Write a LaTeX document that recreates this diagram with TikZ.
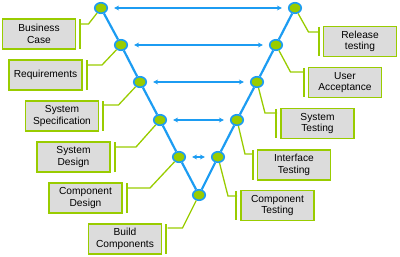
\documentclass[tikz,border=0pt]{standalone}
\usepackage{fontspec}
\setmainfont{Liberation Sans}
\usetikzlibrary{shapes.geometric,arrows.meta}
\definecolor{vblue}{HTML}{1C9CF2}
\definecolor{vgreen}{HTML}{99CC00}
\definecolor{vgray}{HTML}{DCDCDC}
\begin{document}
\begin{tikzpicture}[x=1pt,y=-1pt,
  stage/.style={ellipse, draw=vblue, line width=1.6pt, fill=vgreen,
    minimum width=12.5pt, minimum height=10.5pt, inner sep=0pt},
  phase/.style={draw=vgreen, line width=1.5pt, fill=vgray,
    minimum width=73pt, minimum height=30pt, inner sep=1pt, align=center,
    font=\fontsize{10.2}{11.5}\selectfont},
  bar/.style={draw=vgreen, line width=1.6pt},
  link/.style={draw=vgreen, line width=1.3pt},
  vee/.style={draw=vblue, line width=2.2pt},
  pair/.style={draw=vblue, line width=1.3pt, shorten <=6pt, shorten >=6pt,
    {Stealth[length=5pt,width=5pt]}-{Stealth[length=5pt,width=5pt]}}
]
\useasboundingbox (0,0) rectangle (400,257);

% stages of the V
\node[stage] (l1) at (101,8) {};
\node[stage] (l2) at (121,45) {};
\node[stage] (l3) at (140,82) {};
\node[stage] (l4) at (160,120) {};
\node[stage] (l5) at (179,157) {};
\node[stage] (b)  at (199,195) {};
\node[stage] (r5) at (218,157) {};
\node[stage] (r4) at (237,120) {};
\node[stage] (r3) at (257,82) {};
\node[stage] (r2) at (276,45) {};
\node[stage] (r1) at (295,8) {};

% the V itself
\draw[vee] (l1) -- (l2);
\draw[vee] (l2) -- (l3);
\draw[vee] (l3) -- (l4);
\draw[vee] (l4) -- (l5);
\draw[vee] (l5) -- (b);
\draw[vee] (b) -- (r5);
\draw[vee] (r5) -- (r4);
\draw[vee] (r4) -- (r3);
\draw[vee] (r3) -- (r2);
\draw[vee] (r2) -- (r1);

% verification links across the V
\draw[pair] (l1) -- (r1);
\draw[pair] (l2) -- (r2);
\draw[pair] (l3) -- (r3);
\draw[pair] (l4) -- (r4);
\draw[pair] (l5) -- (r5);

% left-hand phases
\node[phase] (bc) at (39,34)    {Business\\Case};
\node[phase] (rq) at (45.5,75)  {Requirements};
\node[phase] (ss) at (62,116)   {System\\Specification};
\node[phase] (sd) at (73.5,157) {System\\Design};
\node[phase] (cd) at (85.5,198) {Component\\Design};
\node[phase] (bu) at (125,239)  {Build\\Components};

% right-hand phases
\node[phase] (rt) at (360,41.5)  {Release\\testing};
\node[phase] (ua) at (345,82.5)  {User\\Acceptance};
\node[phase] (st) at (317.5,123.5) {System\\Testing};
\node[phase] (it) at (294,165)   {Interface\\Testing};
\node[phase] (ct) at (277.5,205.5) {Component\\Testing};

% brackets beside the boxes
\foreach \n in {bc,rq,ss,sd,cd,bu}
  \draw[bar] ([xshift=4pt,yshift=-1pt]\n.north east) -- ([xshift=4pt,yshift=1pt]\n.south east);
\foreach \n in {rt,ua,st,it,ct}
  \draw[bar] ([xshift=-4pt,yshift=-1pt]\n.north west) -- ([xshift=-4pt,yshift=1pt]\n.south west);

% junction points on the brackets
\coordinate (bcj) at (80.5,24);
\coordinate (rqj) at (87,65);
\coordinate (ssj) at (103.5,105);
\coordinate (sdj) at (115,147);
\coordinate (cdj) at (127,188);
\coordinate (buj) at (167.5,228);
\coordinate (rtj) at (318.5,32);
\coordinate (uaj) at (304.5,72);
\coordinate (stj) at (277,113);
\coordinate (itj) at (253.5,154);
\coordinate (ctj) at (237,196);

% links from the brackets to the stages
\draw[link] (bcj) -- ++(8,0) -- (l1);
\draw[link] (rqj) -- ++(15,0) -- (l2);
\draw[link] (ssj) -- ++(15,0) -- (l3);
\draw[link] (sdj) -- ++(21,0) -- (l4);
\draw[link] (cdj) -- ++(23,0) -- (l5);
\draw[link] (buj) -- ++(15,0) -- (b);
\draw[link] (rtj) -- ++(-10,0) -- (r1);
\draw[link] (uaj) -- ++(-14,0) -- (r2);
\draw[link] (stj) -- ++(-12,0) -- (r3);
\draw[link] (itj) -- ++(-8.5,0) -- (r4);
\draw[link] (ctj) -- ++(-9,0) -- (r5);
\end{tikzpicture}
\end{document}
